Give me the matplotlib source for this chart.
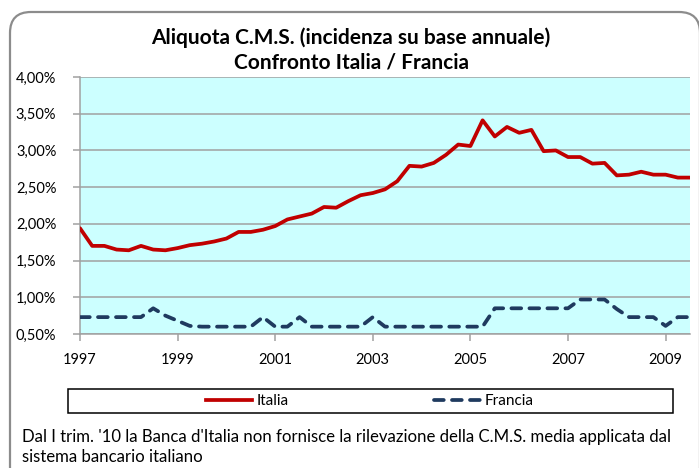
import matplotlib.pyplot as plt
from matplotlib.patches import FancyBboxPatch, Rectangle
from matplotlib.lines import Line2D

plt.rcParams['font.family'] = ['Lato', 'DejaVu Sans']

# quarterly data, 1997 Q1 .. 2009 Q3
start_year = 1997
italia = [1.94, 1.70, 1.70, 1.65, 1.64, 1.70, 1.65, 1.64, 1.67, 1.71,
          1.73, 1.76, 1.80, 1.89, 1.89, 1.92, 1.97, 2.06, 2.10, 2.14,
          2.23, 2.22, 2.31, 2.39, 2.42, 2.47, 2.58, 2.79, 2.78, 2.83,
          2.94, 3.08, 3.06, 3.41, 3.19, 3.32, 3.24, 3.28, 2.99, 3.00,
          2.91, 2.91, 2.82, 2.83, 2.66, 2.67, 2.71, 2.67, 2.67, 2.63,
          2.63]
francia = [0.73, 0.73, 0.73, 0.73, 0.73, 0.73, 0.85, 0.75, 0.68, 0.61,
           0.60, 0.60, 0.60, 0.60, 0.60, 0.73, 0.60, 0.60, 0.73, 0.60,
           0.60, 0.60, 0.60, 0.60, 0.73, 0.60, 0.60, 0.60, 0.60, 0.60,
           0.60, 0.60, 0.60, 0.60, 0.85, 0.85, 0.85, 0.85, 0.85, 0.85,
           0.85, 0.97, 0.97, 0.97, 0.84, 0.73, 0.73, 0.73, 0.61, 0.73,
           0.73]
years = [start_year + i / 4 for i in range(len(italia))]

y_ticks = [0.5, 1.0, 1.5, 2.0, 2.5, 3.0, 3.5, 4.0]
y_labels = ['0,50%', '1,00%', '1,50%', '2,00%', '2,50%', '3,00%', '3,50%', '4,00%']
x_ticks = [1997, 1999, 2001, 2003, 2005, 2007, 2009]

title = 'Aliquota C.M.S. (incidenza su base annuale)\nConfronto Italia / Francia'
note = ("Dal I trim. '10 la Banca d'Italia non fornisce la rilevazione della C.M.S. media applicata dal\n"
        "sistema bancario italiano")

W, H = 699, 468
fig = plt.figure(figsize=(W / 100, H / 100), dpi=100)

# rounded chart border
border = FancyBboxPatch((10 / W, -20 / H), 690 / W, (H - 12 + 20) / H,
                        boxstyle='round,pad=0,rounding_size=0.03',
                        transform=fig.transFigure, fill=False,
                        edgecolor='#8c8c8c', linewidth=1.6, mutation_aspect=W / H)
fig.patches.append(border)

ax = fig.add_axes([80 / W, 1 - 334 / H, 610 / W, (334 - 77) / H])
ax.set_facecolor('#ccffff')

ax.plot(years, italia, color='#c00000', lw=2.7, solid_joinstyle='round',
        solid_capstyle='round', label='Italia', zorder=3)
ax.plot(years, francia, color='#1f3a5f', lw=2.7, dashes=(2.6, 2.2),
        dash_capstyle='round', label='Francia', zorder=3)

ax.set_xlim(start_year, start_year + 12.5)
ax.set_ylim(0.5, 4.0)
ax.set_yticks(y_ticks)
ax.set_yticklabels(y_labels)
ax.set_xticks(x_ticks)
ax.set_xticklabels([str(x) for x in x_ticks])
ax.grid(axis='y', color='#a0a0a0', lw=1.1)
ax.set_axisbelow(True)
for s in ['top', 'right']:
    ax.spines[s].set_visible(False)
for s in ['left', 'bottom']:
    ax.spines[s].set_color('#a0a0a0')
    ax.spines[s].set_linewidth(1.1)
ax.tick_params(axis='both', colors='#a0a0a0', labelcolor='black', labelsize=10.5,
               length=5, width=1.1)
ax.tick_params(axis='y', pad=12)
ax.tick_params(axis='x', pad=9)

fig.text(351 / W, 1 - 50 / H, title, ha='center', va='center', fontsize=15,
         fontweight='bold', linespacing=1.33)

# legend box
fig.patches.append(Rectangle((68 / W, 1 - 413 / H), 605 / W, 24 / H,
                             transform=fig.transFigure, fill=False,
                             edgecolor='black', linewidth=1.1))
handles = [Line2D([], [], color='#c00000', lw=2.7),
           Line2D([], [], color='#1f3a5f', lw=2.7, dashes=(2.6, 2.2), dash_capstyle='round')]
fig.legend(handles, ['Italia', 'Francia'], loc='center', ncol=2,
           bbox_to_anchor=(370 / W, 1 - 401 / H), frameon=False, fontsize=11,
           handlelength=3.0, handletextpad=0.3, columnspacing=9.5)

fig.text(22 / W, 1 - 447 / H, note, ha='left', va='center', fontsize=12.1,
         linespacing=1.38)

fig.savefig('out.png', dpi=100)
